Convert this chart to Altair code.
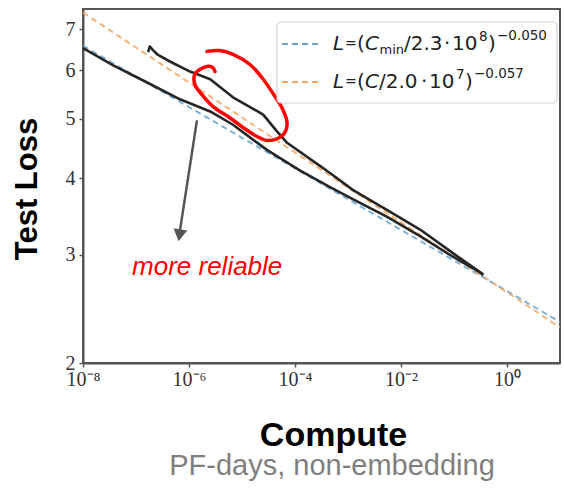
import altair as alt
import pandas as pd

# Power-law fits quoted in the legend: L = (C / c0) ** -alpha
cmin_fit_c0, cmin_fit_alpha = 2.3e8, 0.050
c_fit_c0, c_fit_alpha = 2.0e7, 0.057
fit_log_compute = [-8, -7, -6, -5, -4, -3, -2, -1, 0, 1]

# Learning-curve envelopes: log10(compute, PF-days) and test loss
cmin_log_compute = [-8.00, -7.43, -6.79, -6.17, -5.60, -5.17, -4.53, -3.91,
                    -3.34, -2.91, -2.26, -1.64, -1.02, -0.51, -0.45]
cmin_loss = [6.52, 6.11, 5.73, 5.38, 5.14, 4.89, 4.45, 4.12,
             3.87, 3.70, 3.46, 3.22, 2.98, 2.81, 2.78]

c_log_compute = [-6.77, -6.74, -6.68, -6.60, -6.36, -5.98, -5.60, -5.17, -4.60,
                 -4.34, -4.15, -3.53, -3.34, -2.91, -2.26, -1.64, -1.02, -0.45]
c_loss = [6.42, 6.56, 6.47, 6.37, 6.20, 5.97, 5.80, 5.42, 5.08,
          4.77, 4.57, 4.19, 4.08, 3.83, 3.55, 3.30, 3.02, 2.79]

# Hand-drawn highlight loop around the bump
loop_log_compute = [-5.66, -5.42, -5.17, -4.85, -4.60, -4.38, -4.23, -4.15, -4.19, -4.34,
                    -4.53, -4.72, -4.98, -5.23, -5.55, -5.76, -5.89, -5.89, -5.79, -5.64,
                    -5.55, -5.51]
loop_loss = [6.44, 6.46, 6.37, 6.13, 5.80, 5.44, 5.18, 4.93, 4.75, 4.64,
             4.61, 4.68, 4.84, 5.02, 5.24, 5.48, 5.69, 5.91, 6.02, 6.09,
             6.06, 5.97]

# Arrow pointing at the lower envelope, and its caption
arrow_log_compute = [-5.85, -6.17]
arrow_loss = [4.97, 3.29]
arrow_head_log_compute = [-6.18]
arrow_head_loss = [3.23]
note_text = ["more reliable"]
note_log_compute = [-7.075]
note_loss = [2.784]

x_tick_values = [1e-8, 1e-6, 1e-4, 1e-2, 1]
x_tick_labels = ["10⁻⁸", "10⁻⁶", "10⁻⁴", "10⁻²", "10⁰"]
y_tick_values = [2, 3, 4, 5, 6, 7]

x_title = "Compute"
x_subtitle = ["PF-days, non-embedding"]
y_title = "Test Loss"

BLUE = "#6aa3d0"
ORANGE = "#f2a764"
CURVE = "#262626"
RED = "#ff0000"


def frame(log_c, loss, **extra):
    df = pd.DataFrame({"compute": [10.0 ** v for v in log_c], "loss": loss})
    df["i"] = range(len(df))
    for k, v in extra.items():
        df[k] = v
    return df


def fit_frame(c0, alpha):
    comp = [10.0 ** v for v in fit_log_compute]
    return pd.DataFrame({"compute": comp, "loss": [(c / c0) ** (-alpha) for c in comp],
                         "i": range(len(comp))})


label_expr = " : ".join(
    f"datum.value == {v!r} ? '{t}'" for v, t in zip(x_tick_values, x_tick_labels)
) + " : ''"

x_axis = alt.Axis(
    values=x_tick_values, labelExpr=label_expr, grid=False,
    labelFont="Liberation Serif", labelFontSize=20, labelColor="#333333",
    labelPadding=2, labelFlush=False, labelOverlap=False,
    tickSize=4, tickColor="#555555", tickWidth=1.5,
    domainColor="#555555", domainWidth=2,
    title=x_title, titleFont="Liberation Sans", titleFontSize=34,
    titleFontWeight="bold", titleColor="#000000",
    titleX=250, titleY=82, titleAlign="center", titleBaseline="alphabetic",
)
y_axis = alt.Axis(
    values=y_tick_values, format="d", grid=False,
    labelFont="Liberation Serif", labelFontSize=20, labelColor="#333333",
    labelPadding=4, labelFlush=False, labelOverlap=False,
    tickSize=4, tickColor="#555555", tickWidth=1.5,
    domainColor="#555555", domainWidth=2,
    title=y_title, titleFont="Liberation Sans", titleFontSize=31,
    titleFontWeight="bold", titleColor="#000000", titleAngle=270,
    titleX=-47, titleY=179.5, titleAlign="center", titleBaseline="alphabetic",
)

x_enc = alt.X("compute:Q", scale=alt.Scale(type="log", domain=[1e-8, 10], nice=False), axis=x_axis)
y_enc = alt.Y("loss:Q", scale=alt.Scale(type="log", domain=[2, 7.55], nice=False), axis=y_axis)

fit_cmin = alt.Chart(fit_frame(cmin_fit_c0, cmin_fit_alpha)).mark_line(
    color=BLUE, strokeWidth=2, strokeDash=[6, 4], opacity=0.85
).encode(x=x_enc, y=y_enc, order="i:Q")

fit_c = alt.Chart(fit_frame(c_fit_c0, c_fit_alpha)).mark_line(
    color=ORANGE, strokeWidth=2, strokeDash=[6, 4], opacity=0.85
).encode(x=x_enc, y=y_enc, order="i:Q")

curve_cmin = alt.Chart(frame(cmin_log_compute, cmin_loss)).mark_line(
    color=CURVE, strokeWidth=2.6, strokeJoin="round"
).encode(x=x_enc, y=y_enc, order="i:Q")

curve_c = alt.Chart(frame(c_log_compute, c_loss)).mark_line(
    color=CURVE, strokeWidth=2.6, strokeJoin="round"
).encode(x=x_enc, y=y_enc, order="i:Q")

loop = alt.Chart(frame(loop_log_compute, loop_loss)).mark_line(
    color=RED, strokeWidth=3.5, strokeCap="round", strokeJoin="round",
    interpolate="catmull-rom"
).encode(x=x_enc, y=y_enc, order="i:Q")

arrow = alt.Chart(frame(arrow_log_compute, arrow_loss)).mark_line(
    color="#555555", strokeWidth=2.5
).encode(x=x_enc, y=y_enc, order="i:Q")

arrow_head = alt.Chart(frame(arrow_head_log_compute, arrow_head_loss)).mark_point(
    shape="triangle-down", size=190, filled=True, color="#555555", opacity=1, angle=9
).encode(x=x_enc, y=y_enc)

note = alt.Chart(frame(note_log_compute, note_loss, label=note_text)).mark_text(
    color=RED, font="Liberation Sans", fontSize=26, fontStyle="italic",
    align="left", baseline="alphabetic"
).encode(x=x_enc, y=y_enc, text="label:N")

subtitle = alt.Chart(pd.DataFrame({"label": x_subtitle})).mark_text(
    color="#7f7f7f", font="Liberation Sans", fontSize=29,
    align="center", baseline="alphabetic"
).encode(x=alt.value(249), y=alt.value(466), text="label:N")

# Legend: box, dashed samples and the two formulas typeset piece by piece
one_row = pd.DataFrame({"k": [0]})
legend_box = alt.Chart(one_row).mark_rect(
    fill="white", stroke="#d0d0d0", strokeWidth=1.2, cornerRadius=4, opacity=0.95
).encode(x=alt.value(194), x2=alt.value(474), y=alt.value(13), y2=alt.value(94))

legend_lines = [
    alt.Chart(one_row).mark_rule(color=col, strokeWidth=2, strokeDash=[6, 4]).encode(
        x=alt.value(199), x2=alt.value(238), y=alt.value(yy))
    for col, yy in [(BLUE, 35), (ORANGE, 73)]
]

MAIN, SMALL, SUB, EQ = 20, 13.5, 13, 14
legend_pieces = [
    # text, left x, baseline y, size, italic
    ("L", 250, 41, MAIN, True), ("=", 262, 39, EQ, False), ("(", 274, 41, MAIN, False),
    ("C", 282, 41, MAIN, True), ("min", 296.5, 45, SUB, False), ("/2.3", 321, 41, MAIN, False),
    ("·", 361, 41, MAIN, False), ("10", 369, 41, MAIN, False), ("8", 396, 32, SMALL, False),
    (")", 405, 41, MAIN, False), ("−0.050", 414, 31, SMALL, False),
    ("L", 250, 79, MAIN, True), ("=", 262, 77, EQ, False), ("(", 274, 79, MAIN, False),
    ("C", 282, 79, MAIN, True), ("/2.0", 296, 79, MAIN, False),
    ("·", 338, 79, MAIN, False), ("10", 346, 79, MAIN, False), ("7", 373, 70, SMALL, False),
    (")", 382, 79, MAIN, False), ("−0.057", 391, 69, SMALL, False),
]
legend_text = [
    alt.Chart(one_row).mark_text(
        font="DejaVu Sans", fontSize=sz, fontStyle="italic" if it else "normal",
        color="#222222", align="left", baseline="alphabetic"
    ).encode(x=alt.value(px), y=alt.value(py), text=alt.value(t))
    for t, px, py, sz, it in legend_pieces
]

chart = alt.layer(
    fit_cmin, fit_c, curve_cmin, curve_c, loop, arrow, arrow_head, note, subtitle,
    legend_box, *legend_lines, *legend_text
).properties(
    width=477, height=354,
    padding={"left": 83, "top": 9, "right": 4, "bottom": 129},
    autosize=alt.AutoSizeParams(type="none"),
    background="white",
).configure_view(stroke="#555555", strokeWidth=2)

chart.save("out.html", embed_options={"renderer": "svg", "actions": False})
